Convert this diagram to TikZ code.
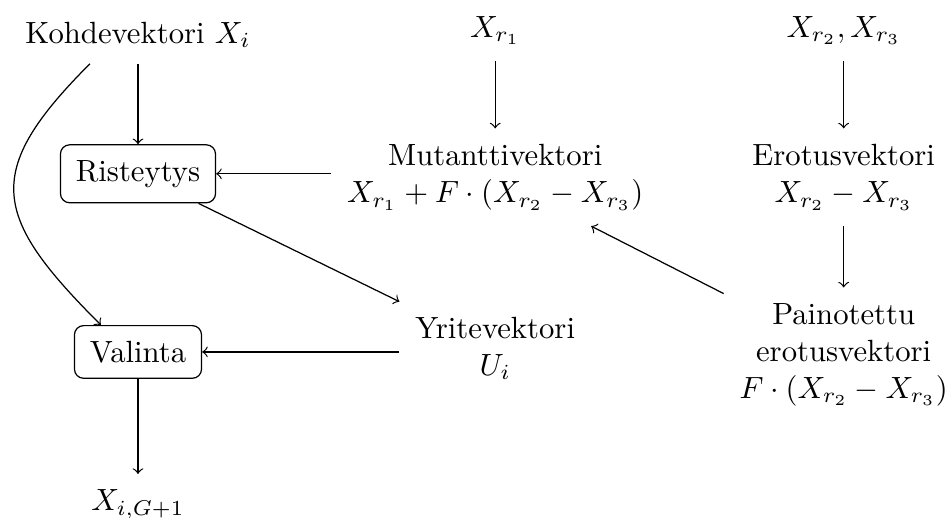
\documentclass[tikz,border=0pt]{standalone}
\usepackage{amsmath,amssymb}
\usepackage{tikz}
\usetikzlibrary{calc,positioning}

\begin{document}
\begin{tikzpicture}[x=1cm,y=1cm,
    laatikko/.style={draw, rounded corners=3pt, inner sep=5pt, align=center},
    teksti/.style={inner sep=5pt, align=center},
    nuoli/.style={->}]
  \useasboundingbox (-1.58,0.40) rectangle (9.24,-5.53);
  \node[teksti] (koh) at (0,0) {Kohdevektori $X_i$};
  \node[teksti] (xr1) at (4.09,0.05) {$X_{r_1}$};
  \node[teksti] (xr23) at (8.08,0.05) {$X_{r_2}, X_{r_3}$};
  \node[laatikko] (rist) at (0,-1.59) {Risteytys};
  \node[teksti] (mut) at (4.09,-1.63) {Mutanttivektori\\$X_{r_1}+F\cdot(X_{r_2}-X_{r_3})$};
  \node[teksti] (erot) at (8.08,-1.63) {Erotusvektori\\$X_{r_2}-X_{r_3}$};
  \node[laatikko] (val) at (0,-3.63) {Valinta};
  \node[teksti] (yrit) at (4.09,-3.59) {Yritevektori\\$U_i$};
  \node[teksti] (pain) at (8.08,-3.66) {Painotettu\\erotusvektori\\$F\cdot(X_{r_2}-X_{r_3})$};
  \node[teksti] (uusi) at (0,-5.38) {$X_{i,G+1}$};
  \draw[nuoli] (koh) -- (rist);
  \draw[nuoli] (xr1) -- (mut);
  \draw[nuoli] (xr23) -- (erot);
  \draw[nuoli] (erot) -- (pain);
  \draw[nuoli] (mut.west |- rist) -- (rist);
  \draw[nuoli] (rist) -- (yrit);
  \draw[nuoli] (pain) -- (mut);
  \draw[nuoli] (yrit.west |- val) -- (val);
  \draw[nuoli] (val) -- (uusi);
  \draw[nuoli] (koh.211) to[out=225, in=135, looseness=1.5] (val.144);
\end{tikzpicture}
\end{document}
